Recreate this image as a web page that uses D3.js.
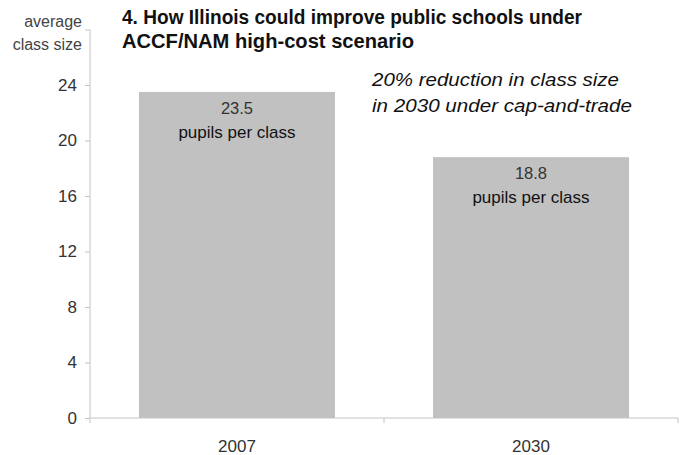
<!DOCTYPE html>
<html>
<head>
<meta charset="utf-8">
<script src="https://cdn.jsdelivr.net/npm/d3@7"></script>
<style>
  body { margin: 0; background: #fff; }
  svg text { font-family: "Liberation Sans", Arial, sans-serif; }
</style>
</head>
<body>
<div id="chart"></div>
<script>
const years = ["2007", "2030"];
const classSize = [23.5, 18.8];
const barLabels = ["23.5", "18.8"];
const yTicks = [0, 4, 8, 12, 16, 20, 24, 28];
const titleLines = ["4. How Illinois could improve public schools under", "ACCF/NAM high-cost scenario"];
const noteLines = ["20% reduction in class size", "in 2030 under cap-and-trade"];

const width = 688, height = 455;
const margin = { top: 29.5, right: 10, bottom: 37, left: 90 };

const svg = d3.select("#chart").append("svg")
    .attr("width", width)
    .attr("height", height);

const x = d3.scaleBand()
    .domain(years)
    .range([margin.left, 678])
    .paddingInner(1 / 3)
    .paddingOuter(1 / 6);

const y = d3.scaleLinear()
    .domain([0, 28])
    .range([height - margin.bottom, margin.top]);

// bars
svg.selectAll("rect.bar")
    .data(classSize)
    .join("rect")
    .attr("class", "bar")
    .attr("x", (d, i) => x(years[i]))
    .attr("y", d => y(d))
    .attr("width", x.bandwidth())
    .attr("height", d => y(0) - y(d))
    .attr("fill", "#c1c1c1");

// y axis
const yAxis = svg.append("g")
    .attr("transform", `translate(${margin.left},0)`)
    .call(d3.axisLeft(y).tickValues(yTicks).tickSize(5).tickPadding(8)
        .tickFormat(d => d === 28 ? "" : d));
yAxis.select(".domain").attr("stroke", "#c4c4c4").attr("d", `M0,${y(28)}V${y(0)}`);
yAxis.selectAll(".tick line").attr("stroke", "#c4c4c4");
yAxis.selectAll(".tick text")
    .attr("font-size", 17)
    .attr("fill", "#333")
    .style("font-family", "'Liberation Sans', Arial, sans-serif");

// x axis with ticks at band edges
const xAxis = svg.append("g")
    .attr("transform", `translate(0,${y(0)})`);
xAxis.append("line")
    .attr("x1", margin.left).attr("x2", 678)
    .attr("stroke", "#c4c4c4");
const edges = [margin.left, x(years[1]) - x.step() * x.paddingInner() / 2, 678];
xAxis.selectAll("line.edge")
    .data(edges)
    .join("line")
    .attr("class", "edge")
    .attr("x1", d => d).attr("x2", d => d)
    .attr("y1", 0).attr("y2", 5)
    .attr("stroke", "#c4c4c4");
xAxis.selectAll("text")
    .data(years)
    .join("text")
    .attr("x", d => x(d) + x.bandwidth() / 2)
    .attr("y", 34)
    .attr("text-anchor", "middle")
    .attr("font-size", 17)
    .attr("fill", "#333")
    .text(d => d);

// y axis label
svg.append("text")
    .attr("x", 82).attr("y", 27)
    .attr("text-anchor", "end")
    .attr("font-size", 16)
    .attr("fill", "#444")
    .selectAll("tspan")
    .data(["average", "class size"])
    .join("tspan")
    .attr("x", 82)
    .attr("dy", (d, i) => i ? 23 : 0)
    .text(d => d);

// bar labels
svg.selectAll("text.val")
    .data(classSize)
    .join("text")
    .attr("class", "val")
    .attr("x", (d, i) => x(years[i]) + x.bandwidth() / 2)
    .attr("y", d => y(d) + 22)
    .attr("text-anchor", "middle")
    .attr("font-size", 16.5)
    .attr("fill", "#333")
    .text((d, i) => barLabels[i]);
svg.selectAll("text.unit")
    .data(classSize)
    .join("text")
    .attr("class", "unit")
    .attr("x", (d, i) => x(years[i]) + x.bandwidth() / 2)
    .attr("y", d => y(d) + 46)
    .attr("text-anchor", "middle")
    .attr("font-size", 17)
    .attr("fill", "#111")
    .text("pupils per class");

// title
const titleWidths = [460, 292];
svg.selectAll("text.title")
    .data(titleLines)
    .join("text")
    .attr("class", "title")
    .attr("x", 122)
    .attr("y", (d, i) => 24 + i * 24)
    .attr("font-size", 19.5)
    .attr("font-weight", "bold")
    .attr("fill", "#111")
    .attr("textLength", (d, i) => titleWidths[i])
    .attr("lengthAdjust", "spacingAndGlyphs")
    .text(d => d);

// note
const noteWidths = [247, 260];
svg.selectAll("text.note")
    .data(noteLines)
    .join("text")
    .attr("class", "note")
    .attr("x", 372)
    .attr("y", (d, i) => 86 + i * 26)
    .attr("font-size", 18)
    .attr("font-style", "italic")
    .attr("fill", "#111")
    .attr("textLength", (d, i) => noteWidths[i])
    .attr("lengthAdjust", "spacingAndGlyphs")
    .text(d => d);
</script>
</body>
</html>
